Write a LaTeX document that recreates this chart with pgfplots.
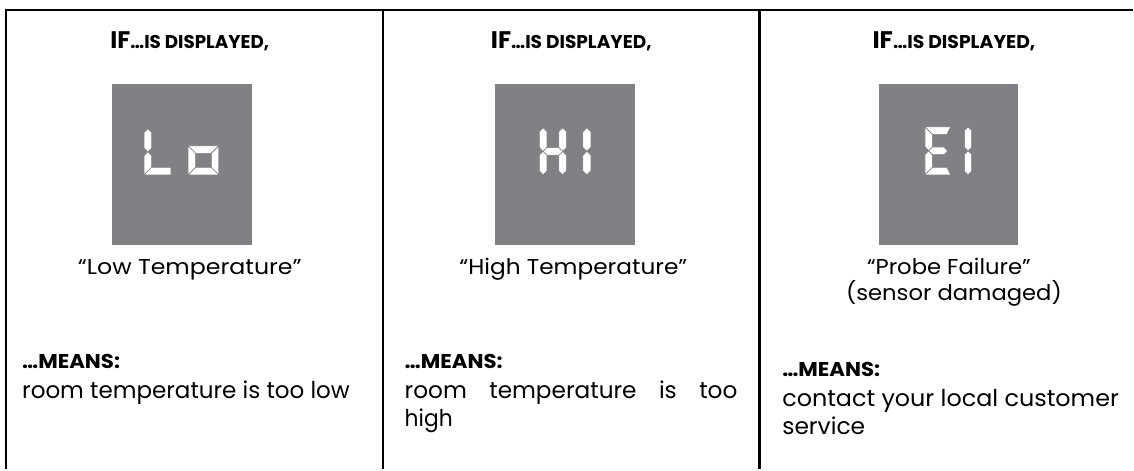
\documentclass[border=0pt]{standalone}
\usepackage{fontspec}
\setmainfont{Poppins}
\usepackage{graphicx}
\usepackage{pgfplots}
\pgfplotsset{compat=1.18}
\definecolor{lcd}{RGB}{128,129,133}
\newcommand\W[2]{\resizebox{#1}{\height}{#2}}
\newcommand\hdr[1]{\W{#1}{\bfseries\fontsize{24}{24}\selectfont IF\fontsize{18.5}{18.5}\selectfont …IS DISPLAYED,}}
\newcommand\captxt{\fontsize{21.5}{21.5}\selectfont}
\newcommand\bodytxt{\fontsize{23.2}{23.2}\selectfont}
\newcommand\mns{\W{98pt}{\bfseries\fontsize{20}{20}\selectfont …MEANS:}}
\begin{document}
\begin{tikzpicture}
\begin{axis}[x=1pt,y=1pt,y dir=reverse,xmin=0,xmax=1134,ymin=0,ymax=470,hide axis,clip=false,
  seg/.style={fill=white,draw=lcd,line width=0.6pt,mark=none}]
\addplot[draw=none,fill=white] coordinates {(0,0)(1134,0)(1134,470)(0,470)} -- cycle;
% frame
\addplot[black,line width=2.6pt,mark=none] coordinates {(4.6,10)(1134,10)};
\addplot[black,line width=2.2pt,mark=none] coordinates {(5.7,8.7)(5.7,470)};
\addplot[black,line width=2.4pt,mark=none] coordinates {(383.5,10)(383.5,470)};
\addplot[black,line width=2.4pt,mark=none] coordinates {(760.5,10)(760.5,470)};
% displays
\addplot[draw=none,fill=lcd] coordinates {(112,84)(252,84)(252,245)(112,245)} -- cycle;
\addplot[draw=none,fill=lcd] coordinates {(496,84)(636,84)(636,245)(496,245)} -- cycle;
\addplot[draw=none,fill=lcd] coordinates {(880,84)(1019,84)(1019,245)(880,245)} -- cycle;
% L
\addplot[seg] coordinates {(148.05,129)(151.8,132.75)(151.8,148.25)(148.05,152)(144.3,148.25)(144.3,132.75)} -- cycle;
\addplot[seg] coordinates {(144.3,175)(151.8,167.5)(151.8,155.75)(148.05,152)(144.3,155.75)} -- cycle;
\addplot[seg] coordinates {(144.3,175)(171,175)(171,167.5)(151.8,167.5)} -- cycle;
% o
\addplot[seg] coordinates {(188.3,146)(219,146)(211.5,153.5)(195.8,153.5)} -- cycle;
\addplot[seg] coordinates {(219,146)(219,175)(211.5,167.5)(211.5,153.5)} -- cycle;
\addplot[seg] coordinates {(188.3,175)(219,175)(211.5,167.5)(195.8,167.5)} -- cycle;
\addplot[seg] coordinates {(188.3,146)(188.3,175)(195.8,167.5)(195.8,153.5)} -- cycle;
% H
\addplot[seg] coordinates {(543.75,128)(547.5,131.75)(547.5,147.75)(543.75,151.5)(540,147.75)(540,131.75)} -- cycle;
\addplot[seg] coordinates {(543.75,175)(547.5,171.25)(547.5,155.25)(543.75,151.5)(540,155.25)(540,171.25)} -- cycle;
\addplot[seg] coordinates {(563.25,128)(567,131.75)(567,147.75)(563.25,151.5)(559.5,147.75)(559.5,131.75)} -- cycle;
\addplot[seg] coordinates {(563.25,175)(567,171.25)(567,155.25)(563.25,151.5)(559.5,155.25)(559.5,171.25)} -- cycle;
\addplot[seg] coordinates {(543.75,151.5)(547.5,147.75)(559.5,147.75)(563.25,151.5)(559.5,155.25)(547.5,155.25)} -- cycle;
% I
\addplot[seg] coordinates {(587.5,128)(591.5,132)(591.5,147.5)(587.5,151.5)(583.5,147.5)(583.5,132)} -- cycle;
\addplot[seg] coordinates {(587.5,175)(591.5,171)(591.5,155.5)(587.5,151.5)(583.5,155.5)(583.5,171)} -- cycle;
% E
\addplot[seg] coordinates {(926,127)(933.5,134.5)(933.5,147.25)(929.75,151)(926,147.25)} -- cycle;
\addplot[seg] coordinates {(926,175)(933.5,167.5)(933.5,154.75)(929.75,151)(926,154.75)} -- cycle;
\addplot[seg] coordinates {(926,127)(951.7,127)(948,134.5)(933.5,134.5)} -- cycle;
\addplot[seg] coordinates {(929.75,151)(933.5,147.25)(945,147.25)(948.75,151)(945,154.75)(933.5,154.75)} -- cycle;
\addplot[seg] coordinates {(926,175)(951.7,175)(948,167.5)(933.5,167.5)} -- cycle;
% 1
\addplot[seg] coordinates {(969.2,127)(972.7,130.5)(972.7,147.5)(969.2,151)(965.7,147.5)(965.7,130.5)} -- cycle;
\addplot[seg] coordinates {(969.2,175)(972.7,171.5)(972.7,154.5)(969.2,151)(965.7,154.5)(965.7,171.5)} -- cycle;
% headers
\node[anchor=base,inner sep=0pt] at (axis cs:190,49) {\hdr{159pt}};
\node[anchor=base,inner sep=0pt] at (axis cs:572,49) {\hdr{161pt}};
\node[anchor=base,inner sep=0pt] at (axis cs:955,49) {\hdr{163pt}};
% captions
\node[anchor=base,inner sep=0pt] at (axis cs:190,274.5) {\W{224pt}{\captxt “Low Temperature”}};
\node[anchor=base,inner sep=0pt] at (axis cs:574,274.5) {\W{228pt}{\captxt “High Temperature”}};
\node[anchor=base,inner sep=0pt] at (axis cs:950,274.5) {\W{164pt}{\captxt “Probe Failure”}};
\node[anchor=base,inner sep=0pt] at (axis cs:955,300.5) {\W{216pt}{\captxt (sensor damaged)}};
% means
\node[anchor=base west,inner sep=0pt] at (axis cs:22,368.5) {\mns};
\node[anchor=base west,inner sep=0pt] at (axis cs:22,398.5) {\W{328pt}{\bodytxt room temperature is too low}};
\node[anchor=base west,inner sep=0pt] at (axis cs:405,368.5) {\mns};
\node[anchor=base west,inner sep=0pt] at (axis cs:405,398.5) {\bodytxt\makebox[333pt][s]{room temperature is too}};
\node[anchor=base west,inner sep=0pt] at (axis cs:405,427.3) {\W{48pt}{\bodytxt high}};
\node[anchor=base west,inner sep=0pt] at (axis cs:783,376.7) {\mns};
\node[anchor=base west,inner sep=0pt] at (axis cs:783,406.7) {\W{337pt}{\bodytxt contact your local customer}};
\node[anchor=base west,inner sep=0pt] at (axis cs:783,435) {\W{83pt}{\bodytxt service}};
\end{axis}
\end{tikzpicture}
\end{document}
